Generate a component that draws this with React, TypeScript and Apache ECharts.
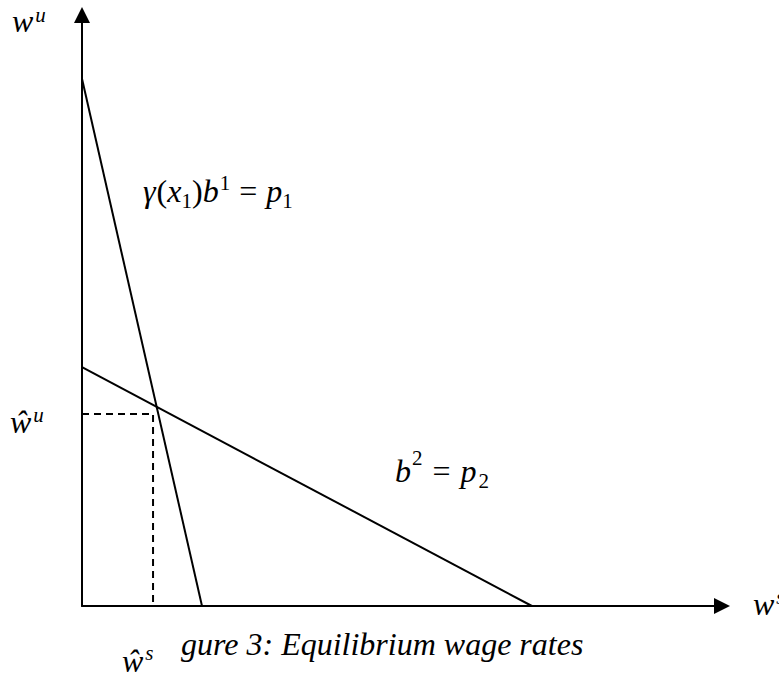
import React, { useEffect, useRef } from "react";
import * as echarts from "echarts";

// ---- data (schematic units) ----
const X_MAX = 100;
const Y_MAX = 100;
const line1Points: number[][] = [
  [0, 89.2],
  [18.75, 0],
];
const line2Points: number[][] = [
  [0, 40.4],
  [70.3, 0],
];
const equilibriumX = 11.1;
const equilibriumY = 32.5;
const dashedPoints: number[][] = [
  [0, equilibriumY],
  [equilibriumX, equilibriumY],
  [equilibriumX, 0],
];

const FAMILY = "Liberation Serif";
const FONT = "'Liberation Serif', 'Times New Roman', serif";

let measureCtx: CanvasRenderingContext2D | null = null;
function measure(t: string, size: number, italic: boolean) {
  if (!measureCtx) measureCtx = document.createElement("canvas").getContext("2d");
  if (!measureCtx) return t.length * size * 0.5;
  measureCtx.font = `${italic ? "italic " : ""}${size}px "${FAMILY}"`;
  return measureCtx.measureText(t).width;
}

function txt(
  text: string,
  x: number,
  baseline: number,
  size: number,
  italic = true
) {
  return {
    type: "text",
    x,
    y: baseline - 0.34 * size,
    silent: true,
    style: {
      text,
      fontSize: size,
      fontFamily: FONT,
      fontStyle: italic ? "italic" : "normal",
      fill: "#000",
      align: "left",
      verticalAlign: "middle",
    },
  };
}

type Piece = { t: string; size: number; italic: boolean; dy?: number; dx?: number };
function seq(pieces: Piece[], x0: number, baseline: number) {
  let x = x0;
  const out: any[] = [];
  for (const p of pieces) {
    x += p.dx || 0;
    out.push(txt(p.t, x, baseline + (p.dy || 0), p.size, p.italic));
    x += measure(p.t, p.size, p.italic);
  }
  return out;
}

const M = 32; // main size
const S = 21; // script size

export default function App() {
  const ref = useRef<HTMLDivElement>(null);
  useEffect(() => {
    document.body.style.margin = "0";
    if (!ref.current) return;
    const chart = echarts.init(ref.current, undefined, { renderer: "svg" });
    const axisCommon = {
      type: "value",
      min: 0,
      axisTick: { show: false },
      axisLabel: { show: false },
      splitLine: { show: false },
      axisLine: {
        show: true,
        symbol: ["none", "triangle"],
        symbolSize: [16, 16],
        lineStyle: { color: "#000", width: 2 },
      },
    };
    const labelA = seq(
      [
        { t: "γ", size: M, italic: true },
        { t: "(", size: M, italic: false, dx: 1 },
        { t: "x", size: M, italic: true },
        { t: "1", size: S, italic: false, dy: 6 },
        { t: ")", size: M, italic: false },
        { t: "b", size: M, italic: true },
        { t: "1", size: S, italic: false, dy: -12, dx: 1 },
        { t: "=", size: M, italic: false, dx: 9 },
        { t: "p", size: M, italic: true, dx: 9 },
        { t: "1", size: S, italic: false, dy: 6 },
      ],
      143,
      202
    );
    const labelB = seq(
      [
        { t: "b", size: M, italic: true },
        { t: "2", size: S, italic: false, dy: -17, dx: 1 },
        { t: "=", size: M, italic: false, dx: 10 },
        { t: "p", size: M, italic: true, dx: 10 },
        { t: "2", size: S, italic: false, dy: 6, dx: 2 },
      ],
      395,
      482
    );
    chart.setOption({
      animation: false,
      backgroundColor: "#fff",
      grid: { left: 82, right: 57, top: 15, bottom: 72 },
      xAxis: { ...axisCommon, max: X_MAX },
      yAxis: { ...axisCommon, max: Y_MAX },
      series: [
        {
          type: "line",
          data: line1Points,
          symbol: "none",
          lineStyle: { color: "#000", width: 2 },
        },
        {
          type: "line",
          data: line2Points,
          symbol: "none",
          lineStyle: { color: "#000", width: 2 },
        },
        {
          type: "line",
          data: dashedPoints,
          symbol: "none",
          lineStyle: { color: "#000", width: 2, type: [7, 5] },
        },
      ],
      graphic: [
        // y-axis label w^u
        ...seq(
          [
            { t: "w", size: M, italic: true },
            { t: "u", size: S, italic: true, dy: -10, dx: 2 },
          ],
          12,
          32
        ),
        // ŵ^u
        ...seq(
          [
            { t: "ŵ", size: M, italic: true },
            { t: "u", size: S, italic: true, dy: -11, dx: 2 },
          ],
          10,
          433
        ),
        ...labelA,
        ...labelB,
        // x-axis label w^s
        ...seq(
          [
            { t: "w", size: M, italic: true },
            { t: "s", size: S, italic: true, dy: -11, dx: 2 },
          ],
          753,
          615
        ),
        // caption ŵ^s
        ...seq(
          [
            { t: "ŵ", size: M, italic: true },
            { t: "s", size: S, italic: true, dy: -12, dx: 2 },
          ],
          122,
          672
        ),
        txt("gure 3: Equilibrium wage rates", 181, 655, M),
      ],
    });
    return () => chart.dispose();
  }, []);
  return <div ref={ref} style={{ width: 779, height: 678 }} />;
}
